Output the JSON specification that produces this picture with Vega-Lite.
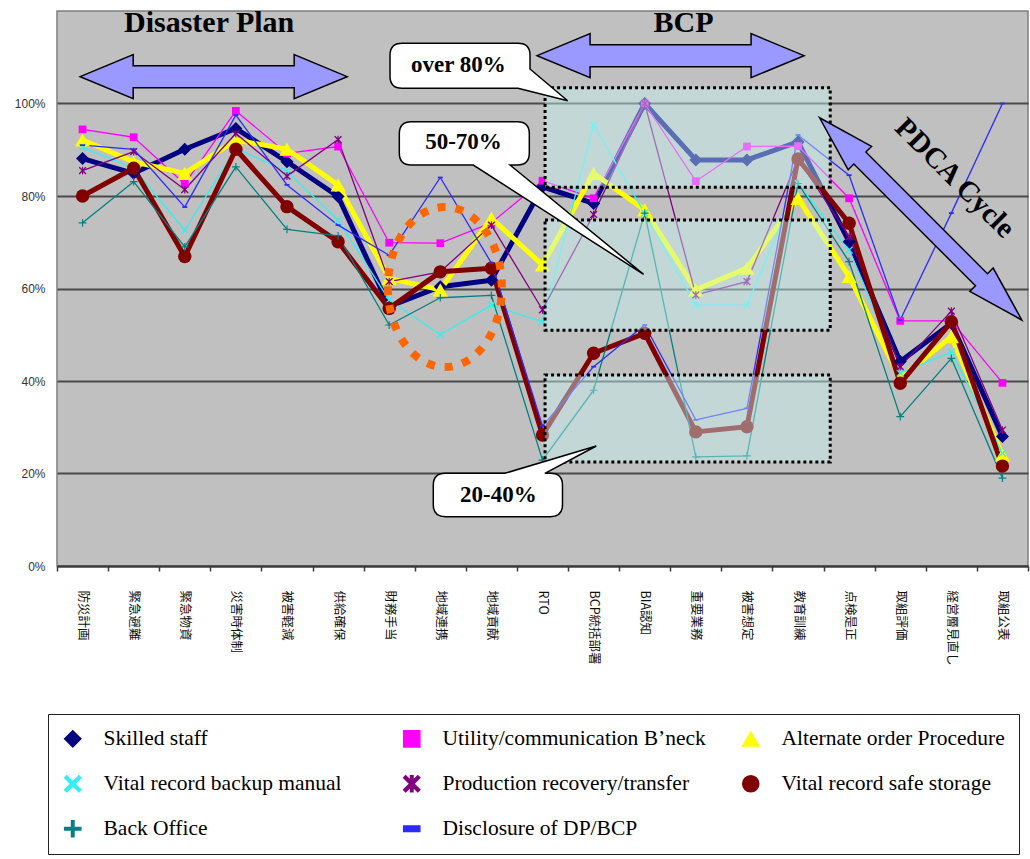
{
  "$schema": "https://vega.github.io/schema/vega-lite/v6.json",
  "width": 971,
  "height": 555,
  "autosize": {"type": "none"},
  "padding": {"left": 57, "top": 11, "right": 2, "bottom": 293},
  "background": "white",
  "config": {
    "view": {"fill": "#C0C0C0", "stroke": "#7F7F7F", "strokeWidth": 1.5},
    "axis": {"labelFont": "Liberation Sans", "labelColor": "#222"},
    "legend": {"labelFont": "Liberation Serif", "labelFontSize": 21.5, "labelColor": "#000"}
  },
  "encoding": {
    "y": {
      "field": "v", "type": "quantitative",
      "scale": {"domain": [0, 1.2], "nice": false, "zero": true},
      "axis": {
        "title": null, "values": [0, 0.2, 0.4, 0.6, 0.8, 1.0], "format": ".0%",
        "grid": true, "gridColor": "#4A4A4A", "gridWidth": 2,
        "domain": false, "ticks": false, "tickSize": 0, "labelPadding": 12,
        "labelFontSize": 12, "labelColor": "#333"
      }
    }
  },
  "resolve": {"scale": {"x": "independent"}},
  "layer": [
    {
      "data": {"values": [
        {"s":"Skilled staff","c":"防災計画","v":0.881},{"s":"Skilled staff","c":"緊急避難","v":0.849},{"s":"Skilled staff","c":"緊急物資","v":0.901},{"s":"Skilled staff","c":"災害時体制","v":0.946},{"s":"Skilled staff","c":"被害軽減","v":0.874},{"s":"Skilled staff","c":"供給確保","v":0.799},{"s":"Skilled staff","c":"財務手当","v":0.561},{"s":"Skilled staff","c":"地域連携","v":0.604},{"s":"Skilled staff","c":"地域貢献","v":0.618},{"s":"Skilled staff","c":"RTO","v":0.82},{"s":"Skilled staff","c":"BCP統括部署","v":0.784},{"s":"Skilled staff","c":"BIA認知","v":1.0},{"s":"Skilled staff","c":"重要業務","v":0.878},{"s":"Skilled staff","c":"被害想定","v":0.878},{"s":"Skilled staff","c":"教育訓練","v":0.917},{"s":"Skilled staff","c":"点検是正","v":0.701},{"s":"Skilled staff","c":"取組評価","v":0.442},{"s":"Skilled staff","c":"経営層見直し","v":0.525},{"s":"Skilled staff","c":"取組公表","v":0.28},
        {"s":"Utility/communication B’neck","c":"防災計画","v":0.944},{"s":"Utility/communication B’neck","c":"緊急避難","v":0.927},{"s":"Utility/communication B’neck","c":"緊急物資","v":0.826},{"s":"Utility/communication B’neck","c":"災害時体制","v":0.984},{"s":"Utility/communication B’neck","c":"被害軽減","v":0.892},{"s":"Utility/communication B’neck","c":"供給確保","v":0.907},{"s":"Utility/communication B’neck","c":"財務手当","v":0.699},{"s":"Utility/communication B’neck","c":"地域連携","v":0.698},{"s":"Utility/communication B’neck","c":"地域貢献","v":0.742},{"s":"Utility/communication B’neck","c":"RTO","v":0.833},{"s":"Utility/communication B’neck","c":"BCP統括部署","v":0.795},{"s":"Utility/communication B’neck","c":"BIA認知","v":1.0},{"s":"Utility/communication B’neck","c":"重要業務","v":0.832},{"s":"Utility/communication B’neck","c":"被害想定","v":0.907},{"s":"Utility/communication B’neck","c":"教育訓練","v":0.908},{"s":"Utility/communication B’neck","c":"点検是正","v":0.795},{"s":"Utility/communication B’neck","c":"取組評価","v":0.53},{"s":"Utility/communication B’neck","c":"経営層見直し","v":0.53},{"s":"Utility/communication B’neck","c":"取組公表","v":0.396},
        {"s":"Alternate order Procedure","c":"防災計画","v":0.921},{"s":"Alternate order Procedure","c":"緊急避難","v":0.874},{"s":"Alternate order Procedure","c":"緊急物資","v":0.849},{"s":"Alternate order Procedure","c":"災害時体制","v":0.921},{"s":"Alternate order Procedure","c":"被害軽減","v":0.901},{"s":"Alternate order Procedure","c":"供給確保","v":0.824},{"s":"Alternate order Procedure","c":"財務手当","v":0.622},{"s":"Alternate order Procedure","c":"地域連携","v":0.597},{"s":"Alternate order Procedure","c":"地域貢献","v":0.752},{"s":"Alternate order Procedure","c":"RTO","v":0.651},{"s":"Alternate order Procedure","c":"BCP統括部署","v":0.849},{"s":"Alternate order Procedure","c":"BIA認知","v":0.77},{"s":"Alternate order Procedure","c":"重要業務","v":0.597},{"s":"Alternate order Procedure","c":"被害想定","v":0.644},{"s":"Alternate order Procedure","c":"教育訓練","v":0.795},{"s":"Alternate order Procedure","c":"点検是正","v":0.626},{"s":"Alternate order Procedure","c":"取組評価","v":0.406},{"s":"Alternate order Procedure","c":"経営層見直し","v":0.496},{"s":"Alternate order Procedure","c":"取組公表","v":0.24},
        {"s":"Vital record backup manual","c":"防災計画","v":0.905},{"s":"Vital record backup manual","c":"緊急避難","v":0.86},{"s":"Vital record backup manual","c":"緊急物資","v":0.726},{"s":"Vital record backup manual","c":"災害時体制","v":0.903},{"s":"Vital record backup manual","c":"被害軽減","v":0.853},{"s":"Vital record backup manual","c":"供給確保","v":0.748},{"s":"Vital record backup manual","c":"財務手当","v":0.575},{"s":"Vital record backup manual","c":"地域連携","v":0.5},{"s":"Vital record backup manual","c":"地域貢献","v":0.564},{"s":"Vital record backup manual","c":"RTO","v":0.528},{"s":"Vital record backup manual","c":"BCP統括部署","v":0.954},{"s":"Vital record backup manual","c":"BIA認知","v":0.763},{"s":"Vital record backup manual","c":"重要業務","v":0.564},{"s":"Vital record backup manual","c":"被害想定","v":0.564},{"s":"Vital record backup manual","c":"教育訓練","v":0.827},{"s":"Vital record backup manual","c":"点検是正","v":0.683},{"s":"Vital record backup manual","c":"取組評価","v":0.417},{"s":"Vital record backup manual","c":"経営層見直し","v":0.463},{"s":"Vital record backup manual","c":"取組公表","v":0.244},
        {"s":"Production recovery/transfer","c":"防災計画","v":0.855},{"s":"Production recovery/transfer","c":"緊急避難","v":0.896},{"s":"Production recovery/transfer","c":"緊急物資","v":0.814},{"s":"Production recovery/transfer","c":"災害時体制","v":0.935},{"s":"Production recovery/transfer","c":"被害軽減","v":0.843},{"s":"Production recovery/transfer","c":"供給確保","v":0.922},{"s":"Production recovery/transfer","c":"財務手当","v":0.615},{"s":"Production recovery/transfer","c":"地域連携","v":0.636},{"s":"Production recovery/transfer","c":"地域貢献","v":0.737},{"s":"Production recovery/transfer","c":"RTO","v":0.554},{"s":"Production recovery/transfer","c":"BCP統括部署","v":0.76},{"s":"Production recovery/transfer","c":"BIA認知","v":1.0},{"s":"Production recovery/transfer","c":"重要業務","v":0.586},{"s":"Production recovery/transfer","c":"被害想定","v":0.615},{"s":"Production recovery/transfer","c":"教育訓練","v":0.88},{"s":"Production recovery/transfer","c":"点検是正","v":0.712},{"s":"Production recovery/transfer","c":"取組評価","v":0.431},{"s":"Production recovery/transfer","c":"経営層見直し","v":0.551},{"s":"Production recovery/transfer","c":"取組公表","v":0.294},
        {"s":"Vital record safe storage","c":"防災計画","v":0.8},{"s":"Vital record safe storage","c":"緊急避難","v":0.86},{"s":"Vital record safe storage","c":"緊急物資","v":0.669},{"s":"Vital record safe storage","c":"災害時体制","v":0.901},{"s":"Vital record safe storage","c":"被害軽減","v":0.777},{"s":"Vital record safe storage","c":"供給確保","v":0.701},{"s":"Vital record safe storage","c":"財務手当","v":0.557},{"s":"Vital record safe storage","c":"地域連携","v":0.636},{"s":"Vital record safe storage","c":"地域貢献","v":0.644},{"s":"Vital record safe storage","c":"RTO","v":0.283},{"s":"Vital record safe storage","c":"BCP統括部署","v":0.46},{"s":"Vital record safe storage","c":"BIA認知","v":0.503},{"s":"Vital record safe storage","c":"重要業務","v":0.29},{"s":"Vital record safe storage","c":"被害想定","v":0.301},{"s":"Vital record safe storage","c":"教育訓練","v":0.88},{"s":"Vital record safe storage","c":"点検是正","v":0.741},{"s":"Vital record safe storage","c":"取組評価","v":0.395},{"s":"Vital record safe storage","c":"経営層見直し","v":0.528},{"s":"Vital record safe storage","c":"取組公表","v":0.216},
        {"s":"Back Office","c":"防災計画","v":0.742},{"s":"Back Office","c":"緊急避難","v":0.831},{"s":"Back Office","c":"緊急物資","v":0.69},{"s":"Back Office","c":"災害時体制","v":0.863},{"s":"Back Office","c":"被害軽減","v":0.728},{"s":"Back Office","c":"供給確保","v":0.714},{"s":"Back Office","c":"財務手当","v":0.521},{"s":"Back Office","c":"地域連携","v":0.58},{"s":"Back Office","c":"地域貢献","v":0.585},{"s":"Back Office","c":"RTO","v":0.229},{"s":"Back Office","c":"BCP統括部署","v":0.38},{"s":"Back Office","c":"BIA認知","v":0.763},{"s":"Back Office","c":"重要業務","v":0.236},{"s":"Back Office","c":"被害想定","v":0.238},{"s":"Back Office","c":"教育訓練","v":0.827},{"s":"Back Office","c":"点検是正","v":0.658},{"s":"Back Office","c":"取組評価","v":0.323},{"s":"Back Office","c":"経営層見直し","v":0.449},{"s":"Back Office","c":"取組公表","v":0.19},
        {"s":"Disclosure of DP/BCP","c":"防災計画","v":0.91},{"s":"Disclosure of DP/BCP","c":"緊急避難","v":0.901},{"s":"Disclosure of DP/BCP","c":"緊急物資","v":0.776},{"s":"Disclosure of DP/BCP","c":"災害時体制","v":0.975},{"s":"Disclosure of DP/BCP","c":"被害軽減","v":0.824},{"s":"Disclosure of DP/BCP","c":"供給確保","v":0.737},{"s":"Disclosure of DP/BCP","c":"財務手当","v":0.672},{"s":"Disclosure of DP/BCP","c":"地域連携","v":0.84},{"s":"Disclosure of DP/BCP","c":"地域貢献","v":0.655},{"s":"Disclosure of DP/BCP","c":"RTO","v":0.303},{"s":"Disclosure of DP/BCP","c":"BCP統括部署","v":0.431},{"s":"Disclosure of DP/BCP","c":"BIA認知","v":0.521},{"s":"Disclosure of DP/BCP","c":"重要業務","v":0.316},{"s":"Disclosure of DP/BCP","c":"被害想定","v":0.341},{"s":"Disclosure of DP/BCP","c":"教育訓練","v":0.932},{"s":"Disclosure of DP/BCP","c":"点検是正","v":0.845},{"s":"Disclosure of DP/BCP","c":"取組評価","v":0.532},{"s":"Disclosure of DP/BCP","c":"経営層見直し","v":0.763},{"s":"Disclosure of DP/BCP","c":"取組公表","v":1.0}
      ]},
      "encoding": {
        "x": {
          "field": "c", "type": "nominal", "sort": null,
          "scale": {"type": "point", "padding": 0.5, "domain": ["防災計画","緊急避難","緊急物資","災害時体制","被害軽減","供給確保","財務手当","地域連携","地域貢献","RTO","BCP統括部署","BIA認知","重要業務","被害想定","教育訓練","点検是正","取組評価","経営層見直し","取組公表"]},
          "axis": {
            "title": null, "orient": "bottom", "labelAngle": 90, "labelAlign": "left", "labelBaseline": "middle",
            "labelFont": "Noto Sans CJK JP", "labelFontSize": 12.5, "labelColor": "#111",
            "ticks": false, "tickSize": 0, "labelPadding": 24, "grid": false,
            "domain": true, "domainColor": "#3A3A3A", "domainWidth": 2, "labelLimit": 200
          }
        },
        "color": {
          "field": "s", "type": "nominal",
          "scale": {
            "domain": ["Skilled staff","Utility/communication B’neck","Alternate order Procedure","Vital record backup manual","Production recovery/transfer","Vital record safe storage","Back Office","Disclosure of DP/BCP"],
            "range": ["#000080","#FF00FF","#FFFF00","#33F0F0","#800080","#800000","#008080","#2B2BFF"]
          },
          "legend": {
            "title": null, "orient": "none", "legendX": -9, "legendY": 703, "columns": 3, "direction": "horizontal",
            "gridAlign": "all", "columnPadding": 33, "rowPadding": 22, "padding": 14,
            "labelFont": "Liberation Serif", "labelFontSize": 21.5, "labelColor": "#000", "labelLimit": 400, "labelOffset": 20,
            "symbolSize": 260, "strokeColor": "#222", "fillColor": "#FFFFFF"
          }
        }
      },
      "layer": [
        {
          "mark": {"type": "line", "strokeJoin": "round"},
          "encoding": {
            "strokeWidth": {
              "condition": {"test": "datum.s === 'Skilled staff' || datum.s === 'Alternate order Procedure' || datum.s === 'Vital record safe storage'", "value": 5},
              "value": 1.3
            }
          }
        },
        {
          "mark": {"type": "point", "filled": true, "opacity": 1},
          "encoding": {
            "shape": {
              "field": "s", "type": "nominal",
              "scale": {
                "domain": ["Skilled staff","Utility/communication B’neck","Alternate order Procedure","Vital record backup manual","Production recovery/transfer","Vital record safe storage","Back Office","Disclosure of DP/BCP"],
                "range": ["diamond","square","triangle-up","M-1,-0.75L-0.75,-1L0,-0.25L0.75,-1L1,-0.75L0.25,0L1,0.75L0.75,1L0,0.25L-0.75,1L-1,0.75L-0.25,0Z","M-1,-0.75L-0.75,-1L0,-0.25L0.75,-1L1,-0.75L0.25,0L1,0.75L0.75,1L0,0.25L-0.75,1L-1,0.75L-0.25,0Z M-0.15,-1L0.15,-1L0.15,1L-0.15,1Z","circle","M-0.15,-1L0.15,-1L0.15,-0.15L1,-0.15L1,0.15L0.15,0.15L0.15,1L-0.15,1L-0.15,0.15L-1,0.15L-1,-0.15L-0.15,-0.15Z","M-1,-0.35L1,-0.35L1,0.35L-1,0.35Z"]
              },
              "legend": {
                "title": null, "orient": "none", "legendX": -9, "legendY": 703, "columns": 3, "direction": "horizontal",
                "gridAlign": "all", "columnPadding": 33, "rowPadding": 22, "padding": 14,
                "labelFont": "Liberation Serif", "labelFontSize": 21.5, "labelColor": "#000", "labelLimit": 400, "labelOffset": 20,
                "symbolSize": 260, "strokeColor": "#222", "fillColor": "#FFFFFF"
              }
            },
            "size": {
              "condition": [
                {"test": "datum.s === 'Skilled staff'", "value": 170},
                {"test": "datum.s === 'Alternate order Procedure'", "value": 230},
                {"test": "datum.s === 'Vital record safe storage'", "value": 180},
                {"test": "datum.s === 'Utility/communication B’neck'", "value": 60},
                {"test": "datum.s === 'Disclosure of DP/BCP'", "value": 25}
              ],
              "value": 60
            }
          }
        }
      ]
    },
    {
      "encoding": {
        "x": {
          "field": "x", "type": "quantitative",
          "scale": {"domain": [-0.5, 18.5], "nice": false, "zero": false},
          "axis": {
            "title": null, "orient": "bottom", "values": [-0.5,0.5,1.5,2.5,3.5,4.5,5.5,6.5,7.5,8.5,9.5,10.5,11.5,12.5,13.5,14.5,15.5,16.5,17.5,18.5],
            "labels": false, "domain": false, "grid": false, "ticks": true, "tickSize": 5, "tickColor": "#3A3A3A", "tickWidth": 1.5
          }
        }
      },
      "layer": [
        {
          "data": {"values": [
            {"x": 9.05, "x2": 14.63, "v": 1.034, "v2": 0.819},
            {"x": 9.05, "x2": 14.63, "v": 0.748, "v2": 0.51},
            {"x": 9.05, "x2": 14.63, "v": 0.413, "v2": 0.225}
          ]},
          "mark": {"type": "rect", "fill": "#C8F4F4", "fillOpacity": 0.45, "stroke": "#000000", "strokeWidth": 3, "strokeDash": [3, 3]},
          "encoding": {"x2": {"field": "x2"}, "y2": {"field": "v2"}}
        },
        {
          "data": {"values": [{"x": 7.09, "v": 0.603}]},
          "mark": {"type": "point", "filled": false, "opacity": 1, "size": 40000, "stroke": "#FF6600", "strokeWidth": 8, "strokeDash": [8, 10],
                   "shape": "M-0.57,0A0.57,0.8 0 1,0 0.57,0A0.57,0.8 0 1,0 -0.57,0Z"}
        },
        {
          "data": {"values": [{"x": 2.566, "v": 1.058}, {"x": 11.506, "v": 1.1034}]},
          "mark": {"type": "point", "filled": true, "opacity": 1, "size": 40000, "fill": "#9999FF", "stroke": "#000000", "strokeWidth": 1.5,
                   "shape": "M-1.335,0L-0.805,-0.22L-0.805,-0.11L0.805,-0.11L0.805,-0.22L1.335,0L0.805,0.22L0.805,0.11L-0.805,0.11L-0.805,0.22Z"}
        },
        {
          "data": {"values": [{"x": 16.4, "v": 0.7505}]},
          "mark": {"type": "point", "filled": true, "opacity": 1, "size": 40000, "fill": "#9999FF", "stroke": "#000000", "strokeWidth": 1.5, "angle": 45,
                   "shape": "M-1.43,0L-0.86,-0.165L-0.86,-0.085L0.86,-0.085L0.86,-0.165L1.43,0L0.86,0.165L0.86,0.085L-0.86,0.085L-0.86,0.165Z"}
        },
        {
          "data": {"values": [{"x": 7.386, "v": 1.0817}]},
          "mark": {"type": "point", "filled": true, "opacity": 1, "size": 40000, "fill": "#FFFFFF", "stroke": "#000000", "strokeWidth": 1.5,
                   "shape": "M-0.58,-0.225L0.58,-0.225Q0.7,-0.225 0.7,-0.105L0.7,0.033L1.076,0.35L0.58,0.225L-0.58,0.225Q-0.7,0.225 -0.7,0.105L-0.7,-0.105Q-0.7,-0.225 -0.58,-0.225Z"}
        },
        {
          "data": {"values": [{"x": 7.47, "v": 0.9138}]},
          "mark": {"type": "point", "filled": true, "opacity": 1, "size": 40000, "fill": "#FFFFFF", "stroke": "#000000", "strokeWidth": 1.5,
                   "shape": "M-0.53,-0.2165L0.53,-0.2165Q0.65,-0.2165 0.65,-0.0965L0.65,0.0965Q0.65,0.2165 0.53,0.2165L0.457,0.2165L1.793,1.31L0.09,0.2165L-0.53,0.2165Q-0.65,0.2165 -0.65,0.0965L-0.65,-0.0965Q-0.65,-0.2165 -0.53,-0.2165Z"}
        },
        {
          "data": {"values": [{"x": 8.127, "v": 0.1535}]},
          "mark": {"type": "point", "filled": true, "opacity": 1, "size": 40000, "fill": "#FFFFFF", "stroke": "#000000", "strokeWidth": 1.5,
                   "shape": "M-0.526,-0.217L0.07,-0.217L0.984,-0.49L0.47,-0.217L0.526,-0.217Q0.646,-0.217 0.646,-0.097L0.646,0.097Q0.646,0.217 0.526,0.217L-0.526,0.217Q-0.646,0.217 -0.646,0.097L-0.646,-0.097Q-0.646,-0.217 -0.526,-0.217Z"}
        },
        {
          "data": {"values": [{"x": 2.477, "v": 1.174, "t": "Disaster Plan"}, {"x": 11.76, "v": 1.174, "t": "BCP"}]},
          "mark": {"type": "text", "font": "Liberation Serif", "fontWeight": "bold", "fontSize": 30, "color": "#000", "align": "center", "baseline": "middle"},
          "encoding": {"text": {"field": "t"}}
        },
        {
          "data": {"values": [{"x": 7.356, "v": 1.083, "t": "over 80%"}, {"x": 7.454, "v": 0.9157, "t": "50-70%"}, {"x": 8.135, "v": 0.1535, "t": "20-40%"}]},
          "mark": {"type": "text", "font": "Liberation Serif", "fontWeight": "bold", "fontSize": 23, "color": "#000", "align": "center", "baseline": "middle"},
          "encoding": {"text": {"field": "t"}}
        },
        {
          "data": {"values": [{"x": 17.07, "v": 0.839, "t": "PDCA Cycle"}]},
          "mark": {"type": "text", "font": "Liberation Serif", "fontWeight": "bold", "fontSize": 29, "color": "#000", "align": "center", "baseline": "middle", "angle": 45},
          "encoding": {"text": {"field": "t"}}
        }
      ]
    }
  ]
}
